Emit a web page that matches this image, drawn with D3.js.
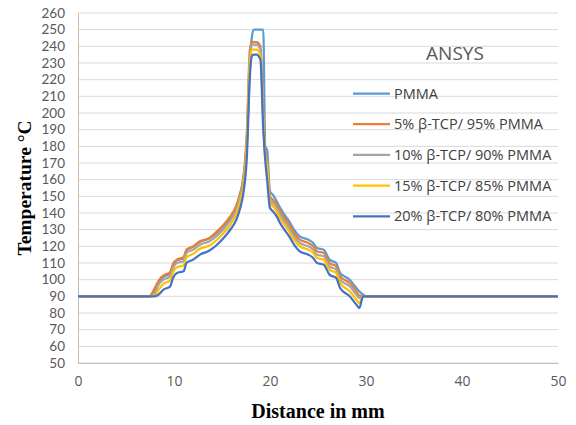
<!DOCTYPE html>
<html>
<head>
<meta charset="utf-8">
<script src="https://cdn.jsdelivr.net/npm/d3@7"></script>
<style>
  body { margin: 0; background: #fff; }
  svg { display: block; }
</style>
</head>
<body>
<div id="chart"></div>
<script>
// Données (distance en mm, température en °C)
const distance = [0, 7.4, 8.0, 8.4, 8.9, 9.6, 9.9, 10.3, 11.0, 11.3, 12.0, 12.7, 13.7, 14.4, 15.1, 15.8, 16.5, 16.9, 17.2, 17.6, 17.9, 18.1, 18.3, 18.6, 19.0, 19.3, 19.5, 19.7, 20.0, 20.3, 20.7, 21.0, 21.5, 22.0, 22.5, 23.1, 24.0, 24.5, 24.9, 25.6, 26.2, 26.9, 27.3, 28.3, 29.0, 29.3, 29.7, 30.0, 50];

const tPMMA  = [90, 90, 93.7, 98.7, 101.7, 103.7, 108.7, 111.7, 112.7, 117.7, 119.7, 122.7, 124.8, 127.8, 131.7, 136.8, 143.7, 151.8, 159.8, 184, 225, 245, 250, 250, 250, 250, 180, 178, 153, 151, 147, 143.7, 139, 135, 130, 126, 124, 122, 119, 118, 112, 110, 104, 100, 95, 93, 91, 90, 90];
const tTCP5  = [90, 90, 95, 99.5, 102.5, 104.5, 109.5, 112, 113.5, 118, 120, 123, 125, 128.5, 132.5, 137.5, 144.5, 152, 160, 190, 238, 242.5, 242.5, 242.5, 240, 200, 178, 172, 150, 148, 145, 141.5, 137, 133, 128, 124, 122, 120, 117, 116, 110, 108, 102, 98, 93, 90.5, 90, 90, 90];
const tTCP10 = [90, 90, 92, 97, 100, 102, 107, 110, 111, 116, 118, 121, 123, 126, 130, 135, 142, 150, 158, 186, 234, 241, 241, 241, 238, 198, 176, 170, 148, 146, 143, 139.5, 135, 131, 126, 122, 120, 118, 115, 114, 108, 106, 100, 96, 91, 89, 90, 90, 90];
const tTCP15 = [90, 90, 90.5, 94, 97.5, 99.5, 104.5, 107.5, 108.5, 113.5, 115.5, 118.5, 120.5, 123.5, 127.5, 132.5, 139.5, 147, 155, 182, 230, 238, 238, 238, 235, 195, 174, 168, 146, 144, 141, 137.5, 133, 129, 124, 120, 118, 116, 113, 112, 106, 104, 98, 93, 88, 86, 90, 90, 90];
const tTCP20 = [90, 90, 90, 91, 94, 96, 101, 104, 105, 110, 112, 115, 117.5, 120.5, 124.5, 129.5, 136, 143, 151, 175, 222, 234, 235, 235, 232, 190, 172, 160, 143, 141, 138, 134.5, 130, 126, 121, 117, 115, 113, 110, 109, 103, 101, 95, 90, 85, 83, 90, 90, 90];

const seriesNames = ["PMMA", "5% β-TCP/ 95% PMMA", "10% β-TCP/ 90% PMMA", "15% β-TCP/ 85% PMMA", "20% β-TCP/ 80% PMMA"];
const seriesColors = ["#5b9bd5", "#ed7d31", "#a5a5a5", "#ffc000", "#4472c4"];
const seriesValues = [tPMMA, tTCP5, tTCP10, tTCP15, tTCP20];

const yTicks = d3.range(50, 261, 10);
const xTicks = [0, 10, 20, 30, 40, 50];

const width = 576, height = 425;
const margin = { top: 13, right: 18, bottom: 62, left: 78 };

const svg = d3.select("#chart").append("svg")
    .attr("width", width)
    .attr("height", height);

const x = d3.scaleLinear().domain([0, 50]).range([margin.left, width - margin.right]);
const y = d3.scaleLinear().domain([50, 260]).range([height - margin.bottom, margin.top]);

// Grille horizontale
svg.append("g")
    .selectAll("line")
    .data(yTicks)
    .join("line")
    .attr("x1", x(0)).attr("x2", x(50))
    .attr("y1", d => y(d)).attr("y2", d => y(d))
    .attr("stroke", "#d9d9d9")
    .attr("stroke-width", 1);

// Axe Y (police plus compacte pour que les libellés ne se chevauchent pas)
const yAxis = svg.append("g")
    .attr("transform", `translate(${x(0)},0)`)
    .call(d3.axisLeft(y).tickValues(yTicks).tickSize(0).tickPadding(13));
yAxis.select(".domain").attr("stroke", "#bfbfbf");
yAxis.selectAll("text")
    .style("font-family", "Lato, sans-serif")
    .style("font-size", "13.5px")
    .attr("fill", "#595959");

// Axe X
const xAxis = svg.append("g")
    .attr("transform", `translate(0,${y(50)})`)
    .call(d3.axisBottom(x).tickValues(xTicks).tickSize(0).tickPadding(13));
xAxis.select(".domain").attr("stroke", "#bfbfbf");
xAxis.selectAll("text")
    .style("font-family", "'Open Sans', sans-serif")
    .style("font-size", "14px")
    .attr("fill", "#595959");

// Courbes
const line = d3.line()
    .x((d, i) => x(distance[i]))
    .y(d => y(d))
    .curve(d3.curveMonotoneX);

svg.append("g")
    .selectAll("path")
    .data(seriesValues)
    .join("path")
    .attr("d", d => line(d))
    .attr("fill", "none")
    .attr("stroke", (d, i) => seriesColors[i])
    .attr("stroke-width", 2.25)
    .attr("stroke-linejoin", "round");

// Titre et légende
svg.append("text")
    .attr("x", 455).attr("y", 60)
    .attr("text-anchor", "middle")
    .style("font-family", "'Open Sans', sans-serif")
    .style("font-size", "19px")
    .attr("fill", "#595959")
    .text("ANSYS");

const legend = svg.append("g")
    .selectAll("g")
    .data(seriesNames)
    .join("g")
    .attr("transform", (d, i) => `translate(353,${93.5 + i * 30.7})`);

legend.append("line")
    .attr("x1", 0).attr("x2", 37)
    .attr("stroke", (d, i) => seriesColors[i])
    .attr("stroke-width", 2.25);

legend.append("text")
    .attr("x", 41).attr("dy", "0.35em")
    .style("font-family", "'Open Sans', sans-serif")
    .style("font-size", "14.5px")
    .attr("fill", "#404040")
    .text(d => d);

// Titres des axes
svg.append("text")
    .attr("x", 318).attr("y", 418)
    .attr("text-anchor", "middle")
    .style("font-family", "'Liberation Serif', serif")
    .style("font-weight", "bold")
    .style("font-size", "20px")
    .text("Distance in  mm");

svg.append("text")
    .attr("transform", "rotate(-90)")
    .attr("x", -188).attr("y", 31)
    .attr("text-anchor", "middle")
    .style("font-family", "'Liberation Serif', serif")
    .style("font-weight", "bold")
    .style("font-size", "19.5px")
    .text("Temperature °C");
</script>
</body>
</html>
